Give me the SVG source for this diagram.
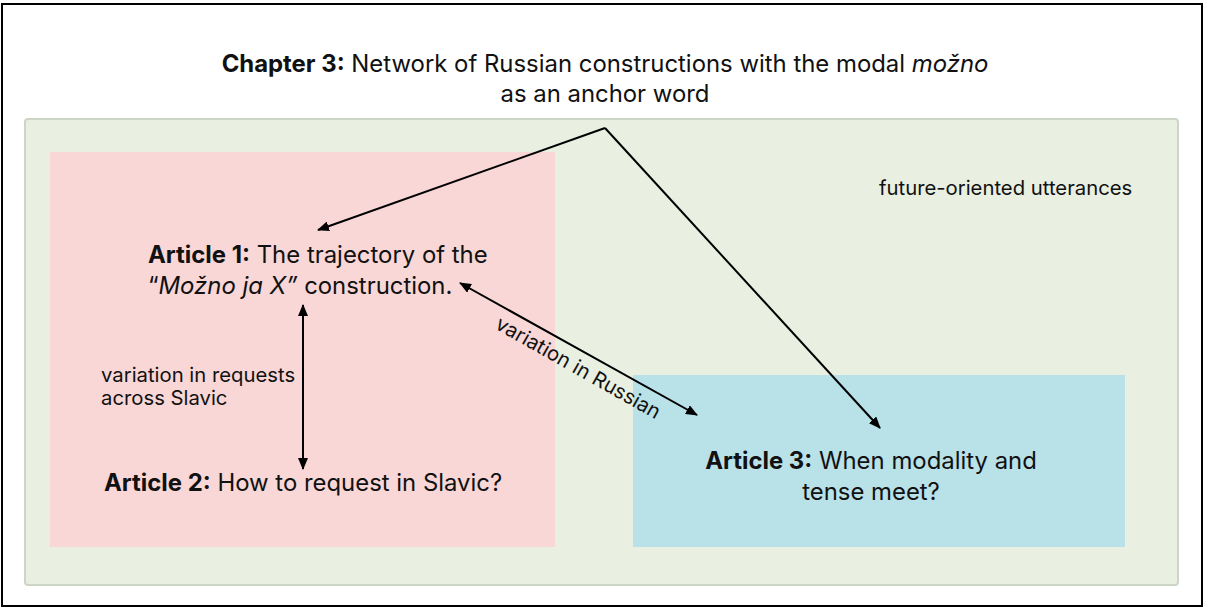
<svg xmlns="http://www.w3.org/2000/svg" width="1205" height="608" viewBox="0 0 1205 608">
  <style>
    text { font-family: Inter, "Noto Sans", "Liberation Sans", sans-serif; fill: #111; }
    .big { font-size: 23.9px; }
    .small { font-size: 20.3px; }
    .b { font-weight: 700; }
    .i { font-style: italic; }
    .conn { stroke: #000; stroke-width: 2; fill: none; }
  </style>
  <defs>
    <marker id="arrow" viewBox="0 0 12 10" refX="11" refY="5" markerWidth="12" markerHeight="10" markerUnits="userSpaceOnUse" orient="auto-start-reverse">
      <path d="M0,0 L12,5 L0,10 Z" fill="#000"/>
    </marker>
  </defs>

  <!-- page frame -->
  <rect x="2" y="4" width="1200" height="602" fill="#fff" stroke="#000" stroke-width="2"/>

  <!-- title -->
  <g id="title">
    <text class="big" x="605" y="72" text-anchor="middle"><tspan class="b">Chapter 3:</tspan> Network of Russian constructions with the modal <tspan class="i">možno</tspan></text>
    <text class="big" x="605" y="102" text-anchor="middle">as an anchor word</text>
  </g>

  <!-- future-oriented utterances area -->
  <g id="future">
    <rect x="25" y="119" width="1153" height="466" rx="3" fill="#e9efe1" stroke="#cdd5c7" stroke-width="2"/>
    <text class="small" x="879" y="195">future-oriented utterances</text>
  </g>

  <!-- requests area (Articles 1 and 2) -->
  <g id="requests">
    <rect x="50" y="152" width="505" height="395" fill="#f8d7d6"/>
  </g>

  <g id="article3">
    <rect x="633" y="375" width="492" height="172" fill="#b9e1e8"/>
    <text class="big" x="871" y="469" text-anchor="middle"><tspan class="b">Article 3:</tspan> When modality and</text>
    <text class="big" x="871" y="500" text-anchor="middle">tense meet?</text>
  </g>

  <g id="article1">
    <text class="big" x="148" y="263"><tspan class="b">Article 1:</tspan> The trajectory of the</text>
    <text class="big" x="148" y="294">“<tspan class="i">Možno ja X”</tspan> construction.</text>
  </g>

  <g id="article2">
    <text class="big" x="104" y="491"><tspan class="b">Article 2:</tspan> How to request in Slavic?</text>
  </g>

  <!-- connectors -->
  <g id="connectors">
    <path class="conn" d="M605,128 L318,230" marker-end="url(#arrow)"/>
    <path class="conn" d="M605,128 L880,428" marker-end="url(#arrow)"/>
    <path class="conn" d="M303,305 L303,469" marker-start="url(#arrow)" marker-end="url(#arrow)"/>
    <path class="conn" d="M460,283 L697,415" marker-start="url(#arrow)" marker-end="url(#arrow)"/>
    <text class="small" x="101" y="382">variation in requests</text>
    <text class="small" x="101" y="405">across Slavic</text>
    <text class="small" transform="translate(494,328) rotate(29.5)">variation in Russian</text>
  </g>
</svg>
